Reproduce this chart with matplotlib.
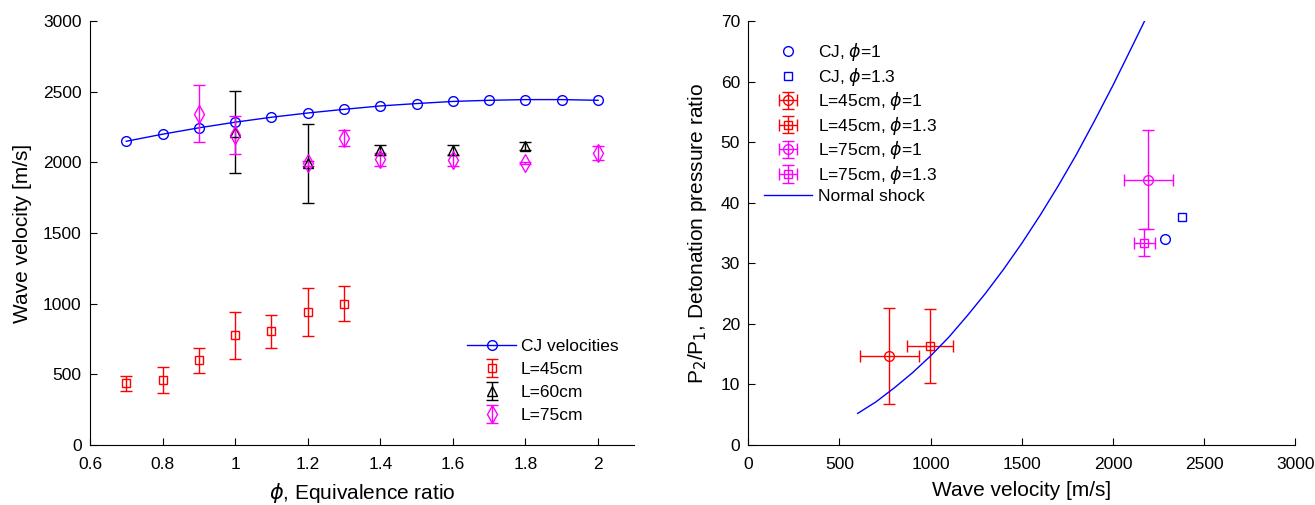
import matplotlib
matplotlib.use('Agg')
import matplotlib.pyplot as plt

plt.rcParams['font.family'] = ['Liberation Sans', 'DejaVu Sans']
plt.rcParams['mathtext.fontset'] = 'dejavusans'

# ---- left panel: wave velocity vs equivalence ratio ----
phi_cj = [0.7, 0.8, 0.9, 1.0, 1.1, 1.2, 1.3, 1.4, 1.5, 1.6, 1.7, 1.8, 1.9, 2.0]
v_cj = [2150, 2200, 2245, 2285, 2320, 2350, 2376, 2400, 2417, 2432, 2440, 2445, 2445, 2440]

phi_45 = [0.7, 0.8, 0.9, 1.0, 1.1, 1.2, 1.3]
v_45 = [436, 458, 598, 775, 803, 940, 1000]
err_45 = [53, 92, 90, 165, 115, 170, 124]

phi_60 = [1.0, 1.2, 1.4, 1.6, 1.8]
v_60 = [2215, 1995, 2085, 2085, 2115]
err_60 = [290, 280, 35, 35, 28]

phi_75 = [0.9, 1.0, 1.2, 1.3, 1.4, 1.6, 1.8, 2.0]
v_75 = [2345, 2195, 1995, 2173, 2022, 2015, 1996, 2067]
err_75 = [200, 135, 18, 58, 45, 40, 8, 50]

# ---- right panel: pressure ratio vs wave velocity ----
cj1 = (2286, 34.1)
cj13 = (2377, 37.7)
l45_1 = dict(v=774, ve=163, p=14.7, pe=8.0)
l45_13 = dict(v=997, ve=124, p=16.4, pe=6.1)
l75_1 = dict(v=2195, ve=136, p=43.8, pe=8.2)
l75_13 = dict(v=2173, ve=57, p=33.4, pe=2.2)

shock_v = [600, 700, 800, 900, 1000, 1100, 1200, 1300, 1400, 1500, 1600,
           1700, 1800, 1900, 2000, 2100, 2173]
shock_p = [5.2, 7.1, 9.4, 11.9, 14.7, 17.8, 21.3, 25.0, 29.0, 33.3, 37.9,
           42.8, 48.0, 53.6, 59.4, 65.5, 70.0]

BLUE = (0, 0, 1)
RED = (1, 0, 0)
MAG = (1, 0, 1)
TICK_FS = 12.5
LABEL_FS = 15


def style_axes(ax):
    for side in ('top', 'right'):
        ax.spines[side].set_visible(False)
    ax.tick_params(direction='in', length=5, labelsize=TICK_FS, width=0.8)
    ax.tick_params(axis='x', pad=9)
    ax.tick_params(axis='y', pad=6)


fig = plt.figure(figsize=(13.15, 5.05), dpi=100)

ax1 = fig.add_axes([0.0684, 0.119, 0.414, 0.839])
ax1.plot(phi_cj, v_cj, '-o', color=BLUE, mfc='none', ms=7, lw=1, label='CJ velocities')
ax1.errorbar(phi_45, v_45, yerr=err_45, fmt='s', color=RED, mfc='none', ms=6,
             capsize=4, elinewidth=1, label='L=45cm')
ax1.errorbar(phi_60, v_60, yerr=err_60, fmt='^', color='k', mfc='none', ms=7,
             capsize=4, elinewidth=1, label='L=60cm')
ax1.errorbar(phi_75, v_75, yerr=err_75, fmt='d', color=MAG, mfc='none', ms=9,
             capsize=4, elinewidth=1, label='L=75cm')
ax1.set_xlim(0.6, 2.1)
ax1.set_ylim(0, 3000)
ax1.set_xticks([0.6, 0.8, 1, 1.2, 1.4, 1.6, 1.8, 2])
ax1.set_xticklabels(['0.6', '0.8', '1', '1.2', '1.4', '1.6', '1.8', '2'])
ax1.set_yticks(range(0, 3001, 500))
ax1.set_xlabel(r'$\phi$, Equivalence ratio', fontsize=LABEL_FS, labelpad=6)
ax1.set_ylabel('Wave velocity [m/s]', fontsize=LABEL_FS, labelpad=8)
style_axes(ax1)
ax1.legend(loc='lower right', bbox_to_anchor=(1.0, 0.015), frameon=False,
           fontsize=TICK_FS, handlelength=2.8, handletextpad=0.3,
           labelspacing=0.45)

ax2 = fig.add_axes([0.569, 0.119, 0.416, 0.839])
ax2.plot([cj1[0]], [cj1[1]], 'o', color=BLUE, mfc='none', ms=7, label=r'CJ, $\phi$=1')
ax2.plot([cj13[0]], [cj13[1]], 's', color=BLUE, mfc='none', ms=6, label=r'CJ, $\phi$=1.3')
for d, mk, col, lab in [(l45_1, 'o', RED, r'L=45cm, $\phi$=1'),
                        (l45_13, 's', RED, r'L=45cm, $\phi$=1.3'),
                        (l75_1, 'o', MAG, r'L=75cm, $\phi$=1'),
                        (l75_13, 's', MAG, r'L=75cm, $\phi$=1.3')]:
    ax2.errorbar([d['v']], [d['p']], xerr=[d['ve']], yerr=[d['pe']], fmt=mk,
                 color=col, mfc='none', ms=7 if mk == 'o' else 6, capsize=4,
                 elinewidth=1, label=lab)
ax2.plot(shock_v, shock_p, '-', color=BLUE, lw=1, label='Normal shock')
ax2.set_xlim(0, 3000)
ax2.set_ylim(0, 70)
ax2.set_xticks(range(0, 3001, 500))
ax2.set_yticks(range(0, 71, 10))
ax2.set_xlabel('Wave velocity [m/s]', fontsize=LABEL_FS, labelpad=6)
ax2.set_ylabel(r'P$_2$/P$_1$, Detonation pressure ratio', fontsize=LABEL_FS, labelpad=8)
style_axes(ax2)
handles, labels = ax2.get_legend_handles_labels()
order = [0, 1, 3, 4, 5, 6, 2]
ax2.legend([handles[i] for i in order], [labels[i] for i in order],
           loc='upper left', bbox_to_anchor=(0.0, 0.99), frameon=False,
           fontsize=TICK_FS, handlelength=2.8, handletextpad=0.3,
           labelspacing=0.15)

fig.savefig('out.png', dpi=100)
